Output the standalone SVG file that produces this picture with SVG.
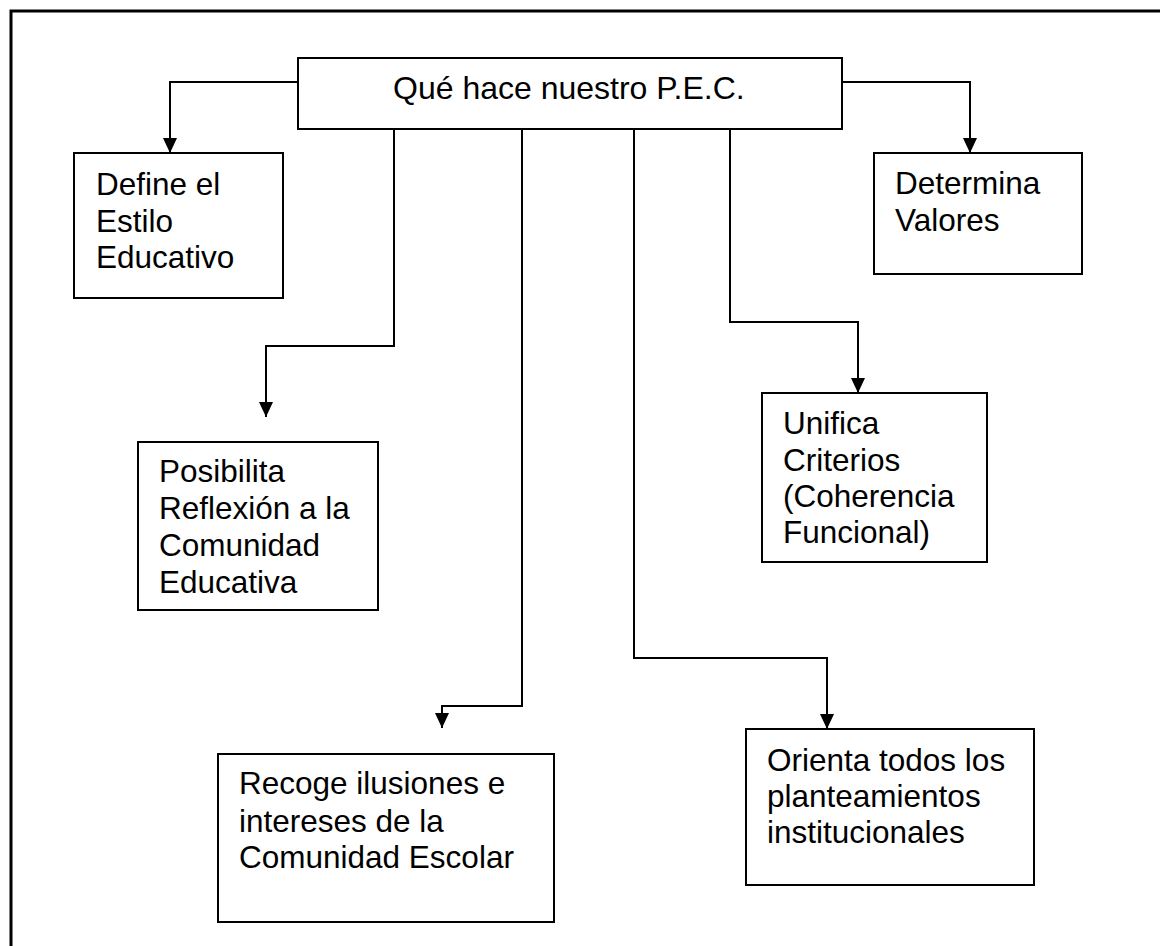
<svg xmlns="http://www.w3.org/2000/svg" width="1160" height="946" viewBox="0 0 1160 946">
<defs>
<marker id="arr" viewBox="0 0 15 14" refX="15" refY="7" markerWidth="15" markerHeight="14" markerUnits="userSpaceOnUse" orient="auto">
<path d="M0,0 L15,7 L0,14 z" fill="#000"/>
</marker>
<style>
.box{fill:#fff;stroke:#000;stroke-width:2}
.t{font-family:"Liberation Sans",Arial,sans-serif;font-size:31.5px;fill:#000}
.title{font-size:32px}
.c{fill:none;stroke:#000;stroke-width:2}
</style>
</defs>
<rect width="1160" height="946" fill="#fff"/>
<path d="M11,946 V11 H1160" fill="none" stroke="#000" stroke-width="3"/>
<g id="connectors">
<path class="c" d="M298,82 H170 V153" marker-end="url(#arr)"/>
<path class="c" d="M842,82 H970 V153" marker-end="url(#arr)"/>
<path class="c" d="M394,129 V346 H266 V417" marker-end="url(#arr)"/>
<path class="c" d="M730,129 V322 H858 V393" marker-end="url(#arr)"/>
<path class="c" d="M522,129 V706 H442 V728" marker-end="url(#arr)"/>
<path class="c" d="M634,129 V658 H827 V729" marker-end="url(#arr)"/>
</g>
<g id="title">
<rect class="box" x="298" y="58" width="544" height="71"/>
<text class="t title" x="393" y="99">Qué hace nuestro P.E.C.</text>
</g>
<g id="define">
<rect class="box" x="74" y="153" width="209" height="145"/>
<text class="t" x="96" y="195">Define el</text>
<text class="t" x="96" y="232">Estilo</text>
<text class="t" x="96" y="268">Educativo</text>
</g>
<g id="determina">
<rect class="box" x="874" y="153" width="208" height="121"/>
<text class="t" x="895" y="194">Determina</text>
<text class="t" x="895" y="231">Valores</text>
</g>
<g id="posibilita">
<rect class="box" x="138" y="442" width="240" height="168"/>
<text class="t" x="159" y="482">Posibilita</text>
<text class="t" x="159" y="519">Reflexión a la</text>
<text class="t" x="159" y="556">Comunidad</text>
<text class="t" x="159" y="593">Educativa</text>
</g>
<g id="unifica">
<rect class="box" x="762" y="393" width="225" height="169"/>
<text class="t" x="783" y="434">Unifica</text>
<text class="t" x="783" y="471">Criterios</text>
<text class="t" x="783" y="507">(Coherencia</text>
<text class="t" x="783" y="543">Funcional)</text>
</g>
<g id="recoge">
<rect class="box" x="218" y="754" width="336" height="168"/>
<text class="t" x="239" y="794">Recoge ilusiones e</text>
<text class="t" x="239" y="832">intereses de la</text>
<text class="t" x="239" y="868">Comunidad Escolar</text>
</g>
<g id="orienta">
<rect class="box" x="746" y="729" width="288" height="156"/>
<text class="t" x="767" y="771">Orienta todos los</text>
<text class="t" x="767" y="807">planteamientos</text>
<text class="t" x="767" y="843">institucionales</text>
</g>
</svg>
